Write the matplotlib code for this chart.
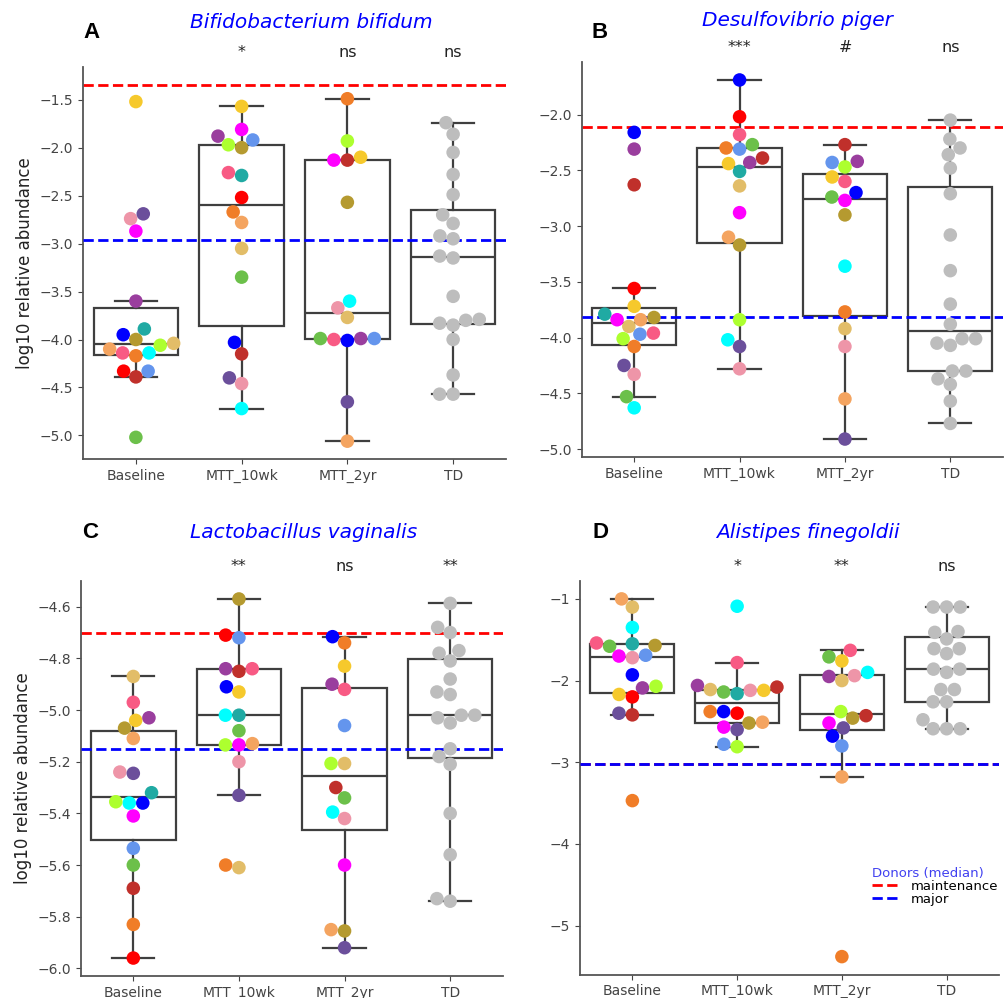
import numpy as np
import matplotlib
matplotlib.use("Agg")
import matplotlib.pyplot as plt
from matplotlib.lines import Line2D
from matplotlib.transforms import blended_transform_factory

groups = ["Baseline", "MTT_10wk", "MTT_2yr", "TD"]

palette = {
    "yellow": "#f6c92c", "purple": "#9a3e9e", "lightpink": "#ee95a8",
    "magenta": "#ff00ff", "blue": "#0000ff", "teal": "#20aaa3",
    "olive": "#b59a30", "lime": "#adff2f", "tan": "#e2bd68",
    "sandy": "#f4a460", "hotpink": "#f85a84", "orange": "#f07d28",
    "cyan": "#00ffff", "red": "#ff0000", "darkred": "#c0302b",
    "cornflower": "#6495ed", "green": "#6cc04a", "darkpurple": "#6b4f9b",
}
td_color = "#bdbdbd"

# --- A: Bifidobacterium bifidum
bif_base = [-1.52, -2.74, -2.69, -2.87, -3.60, -3.89, -3.95, -4.00, -4.10,
            -4.14, -4.17, -4.14, -4.06, -4.04, -4.33, -4.33, -4.39, -5.02]
bif_base_c = ["yellow", "lightpink", "darkpurple", "magenta", "purple", "teal",
              "blue", "olive", "sandy", "hotpink", "orange", "cyan", "lime",
              "tan", "red", "cornflower", "darkred", "green"]
bif_10wk = [-1.57, -1.81, -1.88, -1.97, -2.00, -1.92, -2.26, -2.29, -2.52,
            -2.67, -2.78, -3.05, -3.35, -4.03, -4.15, -4.40, -4.46, -4.72]
bif_10wk_c = ["yellow", "magenta", "purple", "lime", "olive", "cornflower",
              "hotpink", "teal", "red", "orange", "sandy", "tan", "green",
              "blue", "darkred", "darkpurple", "lightpink", "cyan"]
bif_2yr = [-1.49, -1.93, -2.13, -2.13, -2.10, -2.57, -3.60, -3.67, -3.77,
           -3.99, -4.00, -4.01, -3.99, -3.99, -4.65, -5.06]
bif_2yr_c = ["orange", "lime", "darkred", "magenta", "yellow", "olive", "cyan",
             "lightpink", "tan", "purple", "hotpink", "blue", "cornflower",
             "green", "darkpurple", "sandy"]
bif_td = [-1.74, -1.86, -2.05, -2.28, -2.49, -2.70, -2.79, -2.92, -2.95, -3.13,
          -3.15, -3.55, -3.79, -3.80, -3.83, -3.85, -4.00, -4.37, -4.57, -4.57]

# --- B: Desulfovibrio piger
des_base = [-2.16, -2.31, -2.63, -3.56, -3.72, -3.79, -3.84, -3.84, -3.82,
            -3.90, -3.97, -3.96, -4.01, -4.08, -4.25, -4.33, -4.53, -4.63]
des_base_c = ["blue", "purple", "darkred", "red", "yellow", "teal", "sandy",
              "magenta", "olive", "tan", "cornflower", "hotpink", "lime",
              "orange", "darkpurple", "lightpink", "green", "cyan"]
des_10wk = [-1.69, -2.02, -2.18, -2.27, -2.30, -2.31, -2.39, -2.44, -2.43,
            -2.51, -2.64, -2.88, -3.10, -3.17, -3.84, -4.02, -4.08, -4.28]
des_10wk_c = ["blue", "red", "hotpink", "green", "orange", "cornflower",
              "darkred", "yellow", "purple", "teal", "tan", "magenta", "sandy",
              "olive", "lime", "cyan", "darkpurple", "lightpink"]
des_2yr = [-2.27, -2.42, -2.43, -2.47, -2.56, -2.60, -2.70, -2.74, -2.77,
           -2.90, -3.36, -3.77, -3.92, -4.08, -4.55, -4.91]
des_2yr_c = ["darkred", "purple", "cornflower", "lime", "yellow", "hotpink",
             "blue", "green", "magenta", "olive", "cyan", "orange", "tan",
             "lightpink", "sandy", "darkpurple"]
des_td = [-2.05, -2.22, -2.30, -2.36, -2.48, -2.71, -3.08, -3.40, -3.70, -3.88,
          -4.01, -4.01, -4.05, -4.07, -4.30, -4.30, -4.37, -4.42, -4.57, -4.77]

# --- C: Lactobacillus vaginalis
lac_base = [-4.87, -4.97, -5.04, -5.03, -5.07, -5.11, -5.24, -5.245, -5.32,
            -5.36, -5.36, -5.355, -5.41, -5.535, -5.60, -5.69, -5.83, -5.96]
lac_base_c = ["tan", "hotpink", "yellow", "purple", "olive", "sandy",
              "lightpink", "darkpurple", "teal", "cyan", "blue", "lime",
              "magenta", "cornflower", "green", "darkred", "orange", "red"]
lac_10wk = [-4.57, -4.71, -4.72, -4.84, -4.85, -4.84, -4.91, -4.93, -5.02,
            -5.02, -5.08, -5.135, -5.135, -5.13, -5.20, -5.33, -5.60, -5.61]
lac_10wk_c = ["olive", "red", "cornflower", "purple", "darkred", "hotpink",
              "blue", "yellow", "teal", "cyan", "green", "magenta", "lime",
              "sandy", "lightpink", "darkpurple", "orange", "tan"]
lac_2yr = [-4.716, -4.74, -4.83, -4.90, -4.92, -5.06, -5.207, -5.207, -5.30,
           -5.34, -5.395, -5.42, -5.60, -5.85, -5.855, -5.92]
lac_2yr_c = ["blue", "orange", "yellow", "purple", "hotpink", "cornflower",
             "tan", "lime", "darkred", "green", "cyan", "lightpink", "magenta",
             "sandy", "olive", "darkpurple"]
lac_td = [-4.587, -4.68, -4.70, -4.77, -4.78, -4.81, -4.88, -4.93, -4.94, -5.02,
          -5.02, -5.03, -5.05, -5.15, -5.18, -5.21, -5.40, -5.56, -5.73, -5.74]

# --- D: Alistipes finegoldii
ali_base = [-1.00, -1.10, -1.35, -1.58, -1.55, -1.57, -1.54, -1.70, -1.72,
            -1.69, -1.93, -2.09, -2.07, -2.17, -2.20, -2.40, -2.42, -3.47]
ali_base_c = ["sandy", "tan", "cyan", "green", "teal", "olive", "hotpink",
              "magenta", "lightpink", "cornflower", "blue", "purple", "lime",
              "yellow", "red", "darkpurple", "darkred", "orange"]
ali_10wk = [-1.09, -1.78, -2.06, -2.12, -2.14, -2.16, -2.12, -2.11, -2.08,
            -2.38, -2.38, -2.40, -2.52, -2.51, -2.57, -2.60, -2.78, -2.81]
ali_10wk_c = ["cyan", "hotpink", "purple", "lightpink", "green", "teal",
              "yellow", "tan", "darkred", "blue", "orange", "red", "olive",
              "sandy", "magenta", "darkpurple", "cornflower", "lime"]
ali_2yr = [-1.63, -1.71, -1.76, -1.95, -1.94, -2.00, -1.90, -2.38, -2.52,
           -2.46, -2.43, -2.58, -2.68, -2.80, -3.18, -5.38]
ali_2yr_c = ["hotpink", "green", "yellow", "purple", "lightpink", "tan", "cyan",
             "lime", "magenta", "olive", "darkred", "darkpurple", "blue",
             "cornflower", "sandy", "orange"]
ali_td = [-1.10, -1.10, -1.10, -1.40, -1.41, -1.49, -1.61, -1.61, -1.67, -1.86,
          -1.86, -1.90, -2.11, -2.11, -2.26, -2.26, -2.48, -2.59, -2.59, -2.59]

titles = ["Bifidobacterium bifidum", "Desulfovibrio piger",
          "Lactobacillus vaginalis", "Alistipes finegoldii"]
letters = ["A", "B", "C", "D"]
signif = [["", "*", "ns", "ns"], ["", "***", "#", "ns"],
          ["", "**", "ns", "**"], ["", "*", "**", "ns"]]
donor_maint = [-1.345, -2.11, -4.70, -3.02]
donor_major = [-2.96, -3.82, -5.15, -3.02]

values = [[bif_base, bif_10wk, bif_2yr, bif_td],
          [des_base, des_10wk, des_2yr, des_td],
          [lac_base, lac_10wk, lac_2yr, lac_td],
          [ali_base, ali_10wk, ali_2yr, ali_td]]
colors = [[bif_base_c, bif_10wk_c, bif_2yr_c],
          [des_base_c, des_10wk_c, des_2yr_c],
          [lac_base_c, lac_10wk_c, lac_2yr_c],
          [ali_base_c, ali_10wk_c, ali_2yr_c]]

W, H = 1008, 998
DPI = 100


def rect(l, t, r, b):
    return [l / W, 1 - b / H, (r - l) / W, (b - t) / H]


# pixel boxes of the four panels (left, top, right, bottom)
boxes = [(83, 67, 506, 459), (581.5, 62, 1003, 457),
         (80.5, 581, 503, 976), (580, 581, 999, 974.5)]
title_xy = [(311, 22), (797, 21), (304, 532), (808, 532)]
letter_xy = [(91, 32), (600, 32), (90, 533), (600, 533)]

MS = 95  # marker area, pt^2
DIAM = np.sqrt(MS) * DPI / 72.0


def swarm(vals, ax, diam):
    # simple beeswarm: place points in value order, nearest free slot to centre
    y0, y1 = ax.get_ylim()
    px_y = ax.bbox.height / (y1 - y0)
    px_x = ax.bbox.width / 4.0
    ys = np.asarray(vals) * px_y
    xs = np.zeros(len(ys))
    placed = []
    for i in np.argsort(ys, kind="stable"):
        y = ys[i]
        near = [(px, py) for px, py in placed if abs(py - y) < diam]
        cands = [0.0]
        for px, py in near:
            dx = np.sqrt(diam ** 2 - (py - y) ** 2)
            cands += [px - dx, px + dx]
        for c in sorted(cands, key=abs):
            if all((c - px) ** 2 + (y - py) ** 2 >= diam ** 2 - 1e-6 for px, py in near):
                xs[i] = c
                break
        placed.append((xs[i], y))
    return xs / px_x


fig = plt.figure(figsize=(W / DPI, H / DPI), dpi=DPI)
line_c = "#3f3f3f"

for k in range(4):
    ax = fig.add_axes(rect(*boxes[k]))
    data = values[k]
    ax.boxplot(data, positions=range(4), widths=0.8, whis=1.5,
               showfliers=False, patch_artist=True,
               boxprops=dict(facecolor="white", edgecolor=line_c, linewidth=1.6),
               medianprops=dict(color=line_c, linewidth=1.6),
               whiskerprops=dict(color=line_c, linewidth=1.6),
               capprops=dict(color=line_c, linewidth=1.6))
    ax.axhline(donor_maint[k], color="red", ls="--", lw=2, zorder=2.5)
    ax.axhline(donor_major[k], color="blue", ls="--", lw=2, zorder=2.6)

    allv = np.concatenate([np.asarray(v) for v in data] + [[donor_maint[k], donor_major[k]]])
    lo, hi = allv.min(), allv.max()
    pad = 0.05 * (hi - lo)
    ax.set_ylim(lo - pad, hi + pad)
    ax.set_xlim(-0.5, 3.5)

    for g in range(4):
        offs = swarm(data[g], ax, DIAM)
        if g < 3:
            cols = [palette[c] for c in colors[k][g]]
        else:
            cols = [td_color] * len(data[g])
        ax.scatter(g + offs, data[g], s=MS, c=cols, linewidths=0, zorder=3,
                   clip_on=False)

    ax.set_xticks(range(4))
    ax.set_xticklabels(groups, fontsize=10, color="#222222")
    ax.tick_params(axis="y", labelsize=10, labelcolor="#222222")
    ax.tick_params(colors="#444444")
    for s in ["top", "right"]:
        ax.spines[s].set_visible(False)
    for s in ["left", "bottom"]:
        ax.spines[s].set_color("#555555")
        ax.spines[s].set_linewidth(1.3)
    if k in (0, 2):
        ax.set_ylabel("log10 relative abundance", fontsize=12, color="#222222")

    tr = blended_transform_factory(ax.transData, ax.transAxes)
    for g, lab in enumerate(signif[k]):
        if lab:
            ax.text(g, 1.037, lab, transform=tr, ha="center", va="center",
                    fontsize=11.5, color="#222222")

    fig.text(title_xy[k][0] / W, 1 - title_xy[k][1] / H, titles[k],
             fontsize=14.5, style="italic", color="blue", ha="center", va="center")
    fig.text(letter_xy[k][0] / W, 1 - letter_xy[k][1] / H, letters[k],
             fontsize=16, fontweight="bold", family=["Liberation Sans", "DejaVu Sans"],
             ha="center", va="center")

    if k == 3:
        handles = [Line2D([], [], color="red", ls="--", lw=2),
                   Line2D([], [], color="blue", ls="--", lw=2)]
        leg = ax.legend(handles, ["maintenance", "major"], title="Donors (median)",
                        loc="upper left", bbox_to_anchor=(0.68, 0.29), frameon=False,
                        fontsize=9.5, title_fontsize=9.5, labelspacing=0,
                        handlelength=2.0, handletextpad=1.0, borderpad=0,
                        alignment="left")
        leg.get_title().set_color("#4040f0")

fig.savefig("out.png", dpi=DPI)
